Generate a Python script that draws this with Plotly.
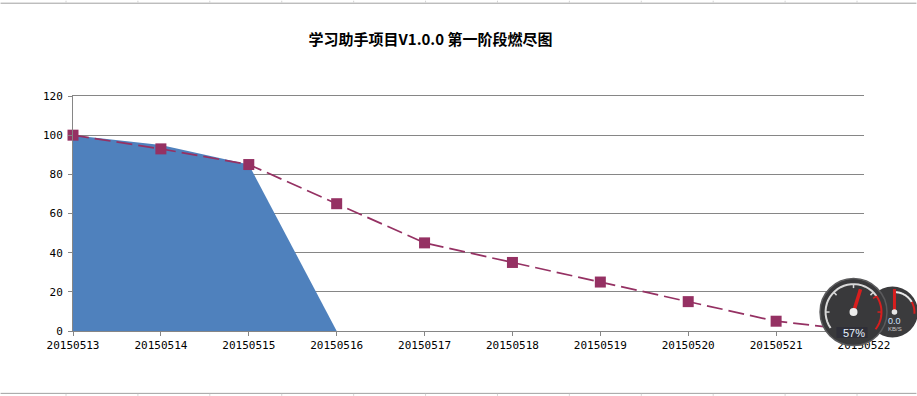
import math
import plotly.graph_objects as go

W, H = 917, 396
dates = ["20150513", "20150514", "20150515", "20150516", "20150517",
         "20150518", "20150519", "20150520", "20150521", "20150522"]
actual_dates = dates[:4]
actual = [100, 95, 85, 0]
plan = [100, 93, 85, 65, 45, 35, 25, 15, 5, 0]
y_ticks = [0, 20, 40, 60, 80, 100, 120]
title = "学习助手项目V1.0.0 第一阶段燃尽图"

L, R, T, B = 72.5, 864.5, 95.5, 331


def px(x):
    return (x - L) / (R - L)


def py(y):
    return (B - y) / (B - T)


shapes = []
annotations = []


def line(x0, y0, x1, y1, color, width=1):
    shapes.append(dict(type="line", xref="paper", yref="paper", x0=px(x0), y0=py(y0), x1=px(x1), y1=py(y1),
                       line=dict(color=color, width=width), layer="above"))


def circle(cx, cy, r, fill, edge=None, w=0):
    shapes.append(dict(type="circle", xref="paper", yref="paper", x0=px(cx - r), y0=py(cy + r),
                       x1=px(cx + r), y1=py(cy - r), fillcolor=fill,
                       line=dict(color=edge or fill, width=w), layer="above"))


def arc(cx, cy, r, a0, a1, color, width):
    pts = []
    n = 24
    for i in range(n + 1):
        a = math.radians(a0 + (a1 - a0) * i / n)
        pts.append((cx + r * math.sin(a), cy - r * math.cos(a)))
    d = "M " + " L ".join(f"{px(x):.5f},{py(y):.5f}" for x, y in pts)
    shapes.append(dict(type="path", xref="paper", yref="paper", path=d,
                       line=dict(color=color, width=width), layer="above"))


def needle(cx, cy, length, ang, color, width):
    a = math.radians(ang)
    line(cx, cy, cx + length * math.sin(a), cy - length * math.cos(a), color, width)


def label(x, y, text, size, color):
    annotations.append(dict(xref="paper", yref="paper", x=px(x), y=py(y), text=text, showarrow=False,
                            xanchor="center", yanchor="middle",
                            font=dict(family="Liberation Sans", size=size, color=color)))


# spreadsheet cell lines behind the chart
line(0, 2.5, W, 2.5, "#a0a0a0", 1)
line(0, 393.5, W, 393.5, "#a0a0a0", 1)
for i in range(13):
    x = 65.5 + 72 * i
    line(x, 0, x, 2, "#d4d4d4", 1)
    line(x, 394, x, H, "#d4d4d4", 1)

# desktop gauge widget over the corner
circle(893, 312, 25.5, "#3b3b3d")
arc(895, 312, 20, 0, 60, "#e8e8e8", 2)
arc(895, 312, 20, 60, 95, "#d81e1e", 2)
needle(895, 312, 23, 0, "#d81e1e", 3)
circle(895, 312, 2.8, "#e6e6e6")
label(895, 320.5, "0.0", 9, "#cfe4ff")
label(896, 329, "KB/S", 6, "#c8c8c8")
circle(854, 312, 33.5, "#39393b", "#5a5a5c", 1.5)
arc(854, 312, 28, -125, 55, "#d8d8d8", 2)
arc(854, 312, 28, 55, 128, "#d81e1e", 2)
for a in (-90, -45, 0, 45):
    a2 = math.radians(a)
    line(854 + 24 * math.sin(a2), 312 - 24 * math.cos(a2), 854 + 28 * math.sin(a2), 312 - 28 * math.cos(a2),
         "#d8d8d8", 1.5)
for a in (90, 55):
    a2 = math.radians(a)
    line(854 + 24 * math.sin(a2), 312 - 24 * math.cos(a2), 854 + 28 * math.sin(a2), 312 - 28 * math.cos(a2),
         "#d81e1e", 1.5)
needle(854, 312, 24, 17, "#d81e1e", 3.5)
circle(854, 312, 4, "#ececec")
shapes.append(dict(type="rect", xref="paper", yref="paper", x0=px(837), y0=py(338), x1=px(868), y1=py(327),
                   fillcolor="#2f2f38", line=dict(width=0), layer="above"))
label(854, 333, "57%", 11, "#e8f2ff")

fig = go.Figure()
fig.add_trace(go.Scatter(x=actual_dates, y=actual, mode="none", fill="tozeroy", fillcolor="#4f81bd",
                         showlegend=False))
fig.add_trace(go.Scatter(x=dates, y=plan, mode="lines+markers", showlegend=False,
                         line=dict(color="#953163", width=1.7, dash="16px,6px"),
                         marker=dict(symbol="square", size=11, color="#953163"), cliponaxis=False))

tick_font = dict(family="DejaVu Sans Mono", size=11, color="#000000")
fig.update_layout(
    width=W, height=H, autosize=False,
    margin=dict(l=L, r=W - R, t=T, b=H - B),
    paper_bgcolor="#ffffff", plot_bgcolor="#ffffff",
    title=dict(text=f"<b>{title}</b>", x=430.5 / W, xanchor="center", y=1 - 40 / H, yanchor="middle",
               font=dict(family="Noto Sans CJK SC", size=15, color="#000000")),
    xaxis=dict(type="category", categoryorder="array", categoryarray=dates, range=[0, 9],
               showgrid=False, showline=True, linecolor="#868686", linewidth=1, ticks="outside", mirror=True,
               ticklen=4, tickcolor="#868686", tickfont=tick_font, tickangle=0, zeroline=False,
               layer="above traces"),
    yaxis=dict(range=[0, 120], tickvals=y_ticks, showgrid=True, gridcolor="#868686", gridwidth=1,
               showline=True, linecolor="#868686", linewidth=1, ticks="outside", ticklen=4,
               tickcolor="#868686", tickfont=tick_font, zeroline=False, ticklabelstandoff=3),
    shapes=shapes, annotations=annotations,
)
fig.write_html("out.html", config=dict(displayModeBar=False),
               post_script="document.body.style.margin='0';document.body.style.overflow='hidden';")
